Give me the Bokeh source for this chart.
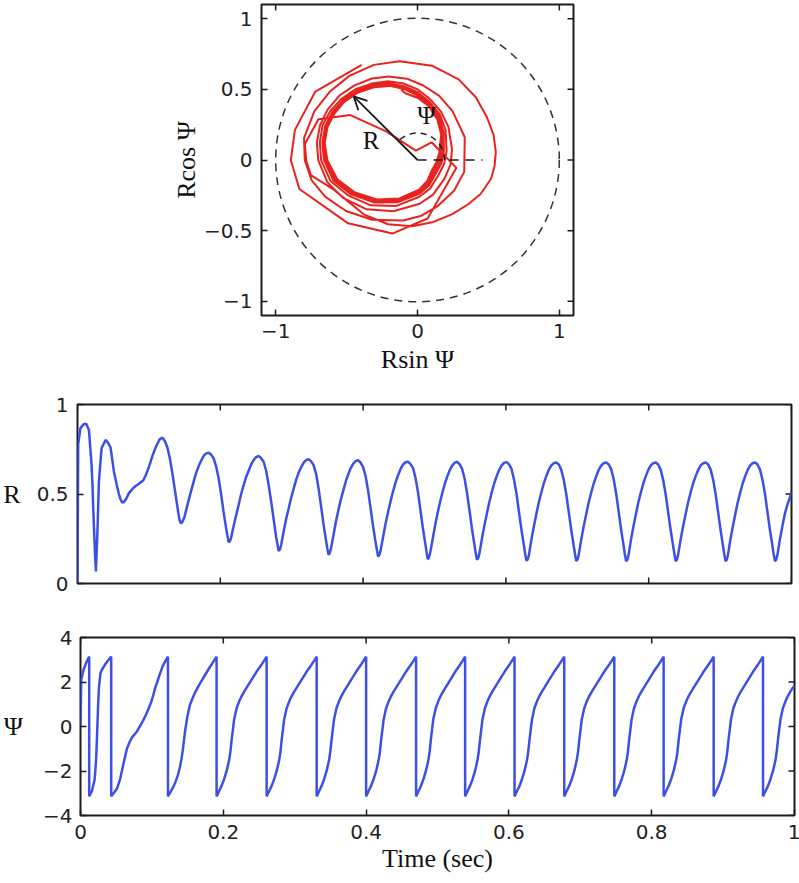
import numpy as np
from bokeh.plotting import figure
from bokeh.models import FixedTicker, Range1d, Arrow, OpenHead, Label
from bokeh.embed import file_html
from bokeh.resources import INLINE

# ---------------- data (time in s, R, Psi in rad) ----------------
# one row per segment between phase wraps (Psi jumps from +pi to -pi at the same time)
time_s = [
    0.0, 0.001, 0.0042, 0.0085, 0.0122,
    0.0122, 0.016, 0.0197, 0.021, 0.022, 0.0234, 0.0246, 0.0258, 0.028, 0.030, 0.0337, 0.0393, 0.043,
    0.043, 0.0463, 0.051, 0.0556, 0.058, 0.0603, 0.0627, 0.065, 0.0685, 0.072, 0.0785, 0.0815, 0.085, 0.0885, 0.092, 0.0955, 0.099, 0.102, 0.1047, 0.1075, 0.110, 0.1125, 0.115, 0.119, 0.1225,
    0.1225, 0.1259, 0.1293, 0.1327, 0.1361, 0.1395, 0.1412, 0.1429, 0.1446, 0.1463, 0.1497, 0.1531, 0.1566, 0.1600, 0.1634, 0.1668, 0.1702, 0.1736, 0.1770, 0.1804, 0.1838, 0.1872, 0.1906,
    0.1906, 0.1941, 0.1976, 0.2011, 0.2046, 0.2081, 0.2099, 0.2116, 0.2134, 0.2151, 0.2186, 0.2221, 0.2257, 0.2292, 0.2327, 0.2362, 0.2397, 0.2432, 0.2467, 0.2502, 0.2537, 0.2572, 0.2607,
    0.2607, 0.2642, 0.2677, 0.2712, 0.2747, 0.2782, 0.2800, 0.2817, 0.2835, 0.2852, 0.2887, 0.2922, 0.2958, 0.2993, 0.3028, 0.3063, 0.3098, 0.3133, 0.3168, 0.3203, 0.3238, 0.3273, 0.3308,
    0.3308, 0.3343, 0.3377, 0.3412, 0.3446, 0.3481, 0.3498, 0.3516, 0.3533, 0.3550, 0.3585, 0.3619, 0.3654, 0.3689, 0.3723, 0.3758, 0.3792, 0.3827, 0.3862, 0.3896, 0.3931, 0.3965, 0.4000,
    0.4000, 0.4035, 0.4070, 0.4105, 0.4140, 0.4175, 0.4193, 0.4210, 0.4228, 0.4245, 0.4280, 0.4315, 0.4350, 0.4385, 0.4420, 0.4455, 0.4490, 0.4525, 0.4560, 0.4595, 0.4630, 0.4665, 0.4700,
    0.4700, 0.4734, 0.4769, 0.4803, 0.4837, 0.4872, 0.4889, 0.4906, 0.4923, 0.4940, 0.4975, 0.5009, 0.5044, 0.5078, 0.5112, 0.5147, 0.5181, 0.5215, 0.5250, 0.5284, 0.5318, 0.5353, 0.5387,
    0.5387, 0.5422, 0.5456, 0.5491, 0.5525, 0.5560, 0.5577, 0.5595, 0.5612, 0.5629, 0.5664, 0.5698, 0.5733, 0.5768, 0.5802, 0.5837, 0.5871, 0.5906, 0.5941, 0.5975, 0.6010, 0.6044, 0.6079,
    0.6079, 0.6114, 0.6149, 0.6183, 0.6218, 0.6253, 0.6270, 0.6288, 0.6305, 0.6323, 0.6357, 0.6392, 0.6427, 0.6462, 0.6497, 0.6531, 0.6566, 0.6601, 0.6636, 0.6671, 0.6705, 0.6740, 0.6775,
    0.6775, 0.6810, 0.6845, 0.6880, 0.6915, 0.6950, 0.6968, 0.6985, 0.7003, 0.7020, 0.7055, 0.7090, 0.7126, 0.7161, 0.7196, 0.7231, 0.7266, 0.7301, 0.7336, 0.7371, 0.7406, 0.7441, 0.7476,
    0.7476, 0.7511, 0.7545, 0.7580, 0.7614, 0.7649, 0.7666, 0.7683, 0.7701, 0.7718, 0.7752, 0.7787, 0.7822, 0.7856, 0.7891, 0.7925, 0.7960, 0.7994, 0.8029, 0.8063, 0.8098, 0.8132, 0.8167,
    0.8167, 0.8202, 0.8237, 0.8272, 0.8307, 0.8342, 0.8360, 0.8377, 0.8395, 0.8412, 0.8447, 0.8482, 0.8518, 0.8553, 0.8588, 0.8623, 0.8658, 0.8693, 0.8728, 0.8763, 0.8798, 0.8833, 0.8868,
    0.8868, 0.8903, 0.8937, 0.8972, 0.9006, 0.9041, 0.9058, 0.9075, 0.9093, 0.9110, 0.9144, 0.9179, 0.9214, 0.9248, 0.9283, 0.9317, 0.9352, 0.9386, 0.9421, 0.9455, 0.9490, 0.9524, 0.9559,
    0.9559, 0.9594, 0.9629, 0.9663, 0.9698, 0.9733, 0.9750, 0.9768, 0.9785, 0.9803, 0.9837, 0.9872, 0.9907, 0.9942, 0.9977, 1.0,
]

r_amp = [
    0.0, 0.78, 0.868, 0.89, 0.893,
    0.893, 0.858, 0.663, 0.55, 0.42, 0.28, 0.16, 0.067, 0.30, 0.57, 0.756, 0.802, 0.785,
    0.785, 0.76, 0.626, 0.54, 0.50, 0.47, 0.452, 0.455, 0.475, 0.505, 0.535, 0.545, 0.555, 0.565, 0.575, 0.605, 0.64, 0.675, 0.71, 0.74, 0.765, 0.785, 0.805, 0.815, 0.795,
    0.795, 0.76, 0.70, 0.62, 0.53, 0.44, 0.395, 0.355, 0.337, 0.34, 0.37, 0.425, 0.48, 0.53, 0.58, 0.625, 0.66, 0.69, 0.715, 0.727, 0.73, 0.72, 0.70,
    0.70, 0.655, 0.59, 0.50, 0.40, 0.31, 0.268, 0.232, 0.235, 0.255, 0.32, 0.38, 0.44, 0.50, 0.55, 0.595, 0.63, 0.665, 0.69, 0.706, 0.713, 0.70, 0.68,
    0.68, 0.63, 0.55, 0.46, 0.36, 0.26, 0.22, 0.182, 0.19, 0.215, 0.29, 0.36, 0.42, 0.48, 0.53, 0.58, 0.62, 0.65, 0.675, 0.69, 0.694, 0.682, 0.66,
    0.66, 0.61, 0.53, 0.43, 0.33, 0.24, 0.198, 0.16, 0.17, 0.195, 0.27, 0.345, 0.41, 0.47, 0.52, 0.57, 0.61, 0.645, 0.67, 0.684, 0.689, 0.675, 0.65,
    0.65, 0.60, 0.52, 0.42, 0.32, 0.23, 0.188, 0.15, 0.16, 0.185, 0.26, 0.335, 0.40, 0.46, 0.515, 0.565, 0.605, 0.64, 0.665, 0.677, 0.68, 0.667, 0.645,
    0.645, 0.59, 0.51, 0.41, 0.31, 0.22, 0.175, 0.135, 0.145, 0.172, 0.25, 0.325, 0.395, 0.455, 0.51, 0.56, 0.60, 0.635, 0.66, 0.675, 0.68, 0.665, 0.64,
    0.64, 0.585, 0.505, 0.405, 0.305, 0.215, 0.17, 0.132, 0.142, 0.167, 0.25, 0.322, 0.39, 0.455, 0.51, 0.56, 0.60, 0.635, 0.66, 0.674, 0.678, 0.665, 0.64,
    0.64, 0.58, 0.50, 0.40, 0.30, 0.21, 0.165, 0.127, 0.135, 0.16, 0.245, 0.32, 0.39, 0.455, 0.51, 0.56, 0.60, 0.635, 0.66, 0.672, 0.676, 0.665, 0.636,
    0.636, 0.58, 0.50, 0.40, 0.30, 0.21, 0.165, 0.126, 0.134, 0.16, 0.245, 0.32, 0.39, 0.455, 0.51, 0.56, 0.60, 0.635, 0.66, 0.672, 0.676, 0.665, 0.636,
    0.636, 0.58, 0.50, 0.40, 0.30, 0.21, 0.165, 0.125, 0.133, 0.16, 0.245, 0.32, 0.39, 0.455, 0.51, 0.56, 0.60, 0.635, 0.66, 0.672, 0.676, 0.665, 0.636,
    0.636, 0.58, 0.50, 0.40, 0.30, 0.21, 0.165, 0.125, 0.133, 0.16, 0.245, 0.32, 0.39, 0.455, 0.51, 0.56, 0.60, 0.635, 0.66, 0.672, 0.676, 0.665, 0.636,
    0.636, 0.58, 0.50, 0.40, 0.30, 0.21, 0.165, 0.125, 0.133, 0.16, 0.245, 0.32, 0.39, 0.455, 0.51, 0.56, 0.60, 0.635, 0.66, 0.672, 0.676, 0.665, 0.636,
    0.636, 0.58, 0.50, 0.40, 0.30, 0.21, 0.165, 0.125, 0.133, 0.16, 0.245, 0.32, 0.39, 0.44, 0.48, 0.512,
]

psi_rad = [
    0.0, 2.10, 2.55, 2.90, 3.14,
    -3.14, -2.90, -2.40, -1.90, -1.40, -0.20, 0.90, 1.75, 2.40, 2.55, 2.75, 3.00, 3.14,
    -3.14, -3.00, -2.80, -2.35, -2.00, -1.65, -1.32, -1.00, -0.72, -0.50, -0.25, -0.08, 0.10, 0.32, 0.55, 0.82, 1.10, 1.42, 1.75, 2.00, 2.25, 2.48, 2.70, 2.95, 3.14,
    -3.14, -2.95, -2.76, -2.52, -2.22, -1.80, -1.50, -1.15, -0.70, -0.25, 0.45, 0.95, 1.25, 1.50, 1.70, 1.90, 2.08, 2.27, 2.45, 2.63, 2.80, 2.97, 3.14,
    -3.14, -2.90, -2.67, -2.37, -2.01, -1.52, -1.15, -0.62, -0.15, 0.30, 0.82, 1.12, 1.37, 1.57, 1.75, 1.93, 2.11, 2.29, 2.47, 2.63, 2.79, 2.96, 3.14,
    -3.14, -2.90, -2.67, -2.37, -2.01, -1.52, -1.15, -0.62, -0.15, 0.30, 0.82, 1.12, 1.37, 1.57, 1.75, 1.93, 2.11, 2.29, 2.47, 2.63, 2.79, 2.96, 3.14,
    -3.14, -2.90, -2.67, -2.37, -2.01, -1.52, -1.15, -0.62, -0.15, 0.30, 0.82, 1.12, 1.37, 1.57, 1.75, 1.93, 2.11, 2.29, 2.47, 2.63, 2.79, 2.96, 3.14,
    -3.14, -2.90, -2.67, -2.37, -2.01, -1.52, -1.15, -0.62, -0.15, 0.30, 0.82, 1.12, 1.37, 1.57, 1.75, 1.93, 2.11, 2.29, 2.47, 2.63, 2.79, 2.96, 3.14,
    -3.14, -2.90, -2.67, -2.37, -2.01, -1.52, -1.15, -0.62, -0.15, 0.30, 0.82, 1.12, 1.37, 1.57, 1.75, 1.93, 2.11, 2.29, 2.47, 2.63, 2.79, 2.96, 3.14,
    -3.14, -2.90, -2.67, -2.37, -2.01, -1.52, -1.15, -0.62, -0.15, 0.30, 0.82, 1.12, 1.37, 1.57, 1.75, 1.93, 2.11, 2.29, 2.47, 2.63, 2.79, 2.96, 3.14,
    -3.14, -2.90, -2.67, -2.37, -2.01, -1.52, -1.15, -0.62, -0.15, 0.30, 0.82, 1.12, 1.37, 1.57, 1.75, 1.93, 2.11, 2.29, 2.47, 2.63, 2.79, 2.96, 3.14,
    -3.14, -2.90, -2.67, -2.37, -2.01, -1.52, -1.15, -0.62, -0.15, 0.30, 0.82, 1.12, 1.37, 1.57, 1.75, 1.93, 2.11, 2.29, 2.47, 2.63, 2.79, 2.96, 3.14,
    -3.14, -2.90, -2.67, -2.37, -2.01, -1.52, -1.15, -0.62, -0.15, 0.30, 0.82, 1.12, 1.37, 1.57, 1.75, 1.93, 2.11, 2.29, 2.47, 2.63, 2.79, 2.96, 3.14,
    -3.14, -2.90, -2.67, -2.37, -2.01, -1.52, -1.15, -0.62, -0.15, 0.30, 0.82, 1.12, 1.37, 1.57, 1.75, 1.93, 2.11, 2.29, 2.47, 2.63, 2.79, 2.96, 3.14,
    -3.14, -2.90, -2.67, -2.37, -2.01, -1.52, -1.15, -0.62, -0.15, 0.30, 0.82, 1.12, 1.37, 1.57, 1.75, 1.93, 2.11, 2.29, 2.47, 2.63, 2.79, 2.96, 3.14,
    -3.14, -2.90, -2.67, -2.37, -2.01, -1.52, -1.15, -0.62, -0.15, 0.30, 0.82, 1.12, 1.37, 1.57, 1.75, 1.80,
]

# tick values
phase_ticks = [-1, -0.5, 0, 0.5, 1]
phase_xticks = [-1, 0, 1]
time_ticks = [0, 0.2, 0.4, 0.6, 0.8, 1]
r_ticks = [0, 0.5, 1]
psi_ticks = [-4, -2, 0, 2, 4]

# schematic drawn in the phase plane
unit_circle_radius = [1.0]
arrow_tip = (-0.45, 0.45)
psi_arc_radius = 0.19
psi_arc_end = 3 * np.pi / 4
zero_ray_end = 0.46

RED = "#e8231f"
BLUE = "#3d50e4"
INK = "#1c1c1c"
TICK_FONT = "DejaVu Sans"
SERIF = "Liberation Serif"
TICK_LEN = 6


def fmt(v):
    return ("%g" % v).replace("-", "\u2212")


def style(p, xt, yt, show_x=True):
    p.outline_line_color = INK
    p.outline_line_width = 2
    p.grid.visible = False
    for ax, ticks in ((p.xaxis[0], xt), (p.yaxis[0], yt)):
        ax.ticker = FixedTicker(ticks=ticks)
        ax.major_label_overrides = {float(t): fmt(t) for t in ticks}
        ax.axis_line_color = None
        ax.major_tick_in = TICK_LEN
        ax.major_tick_out = 0
        ax.major_tick_line_color = INK
        ax.major_tick_line_width = 1.5
        ax.minor_tick_line_color = None
        ax.major_label_text_font = TICK_FONT
        ax.major_label_text_font_size = "20px"
        ax.major_label_text_color = "#222222"
        ax.axis_label_text_font = SERIF
        ax.axis_label_text_font_size = "26px"
        ax.axis_label_text_font_style = "normal"
        ax.axis_label_text_color = "#111111"
    xr, yr = p.x_range, p.y_range
    # mirrored ticks on the top and right edges of the box (MATLAB style)
    p.ray(x=xt, y=[yr.end] * len(xt), length=TICK_LEN, length_units="screen",
          angle=-np.pi / 2, line_color=INK, line_width=1.5)
    p.ray(x=[xr.end] * len(yt), y=yt, length=TICK_LEN, length_units="screen",
          angle=np.pi, line_color=INK, line_width=1.5)
    if not show_x:
        p.xaxis[0].visible = False
        p.ray(x=xt, y=[yr.start] * len(xt), length=TICK_LEN, length_units="screen",
              angle=np.pi / 2, line_color=INK, line_width=1.5)


t_arr = np.array(time_s)
r_arr = np.array(r_amp)
psi_arr = np.array(psi_rad)
# phase-plane coordinates of the same samples (skip the t=0 start at the origin)
px = (r_arr * np.cos(psi_arr))[1:]
py = (r_arr * np.sin(psi_arr))[1:]

# ---------------- top: phase plane ----------------
p1 = figure(frame_width=312, frame_height=311, min_border_left=261, min_border_right=226,
            min_border_top=4, min_border_bottom=71,
            x_range=Range1d(-1.1, 1.1), y_range=Range1d(-1.1, 1.1),
            output_backend="svg", toolbar_location=None)
style(p1, phase_xticks, phase_ticks)
p1.xaxis[0].axis_label = "Rsin \u03a8"
p1.yaxis[0].axis_label = "Rcos \u03a8"
p1.xaxis[0].major_label_standoff = 8
p1.yaxis[0].major_label_standoff = 9
p1.xaxis[0].axis_label_standoff = 4
p1.yaxis[0].axis_label_standoff = 0

p1.line(px, py, line_color=RED, line_width=2)
p1.circle(x=[0], y=[0], radius=unit_circle_radius, fill_color=None, line_color="#333333",
          line_width=1.5, line_dash="8 6")
p1.line([0, zero_ray_end], [0, 0], line_color=INK, line_width=1.5, line_dash="9 7")
p1.arc(x=[0], y=[0], radius=psi_arc_radius, start_angle=0, end_angle=psi_arc_end,
       line_color=INK, line_width=1.5, line_dash="6 5")
p1.add_layout(Arrow(end=OpenHead(size=13, line_width=1.8, line_color=INK),
                    x_start=0, y_start=0, x_end=arrow_tip[0], y_end=arrow_tip[1],
                    line_color=INK, line_width=1.8))
p1.add_layout(Label(x=-0.327, y=0.136, text="R", text_font=SERIF, text_font_size="25px",
                    text_align="center", text_baseline="middle", text_color="#111111"))
p1.add_layout(Label(x=0.064, y=0.318, text="\u03a8", text_font=SERIF, text_font_size="25px",
                    text_align="center", text_baseline="middle", text_color="#111111"))

# ---------------- middle: R(t) ----------------
p2 = figure(frame_width=714, frame_height=179, min_border_left=77, min_border_right=6,
            min_border_top=18, min_border_bottom=18,
            x_range=Range1d(0, 1), y_range=Range1d(0, 1),
            output_backend="svg", toolbar_location=None)
style(p2, time_ticks, r_ticks, show_x=False)
p2.yaxis[0].axis_label = "R"
p2.yaxis[0].axis_label_orientation = "horizontal"
p2.yaxis[0].major_label_standoff = 9
p2.yaxis[0].axis_label_standoff = 13
p2.line(t_arr, r_arr, line_color=BLUE, line_width=2.5)

# ---------------- bottom: Psi(t) ----------------
p3 = figure(frame_width=714, frame_height=178, min_border_left=77, min_border_right=6,
            min_border_top=36, min_border_bottom=66,
            x_range=Range1d(0, 1), y_range=Range1d(-4, 4),
            output_backend="svg", toolbar_location=None)
style(p3, time_ticks, psi_ticks)
p3.yaxis[0].axis_label = "\u03a8"
p3.yaxis[0].axis_label_orientation = "horizontal"
p3.yaxis[0].major_label_standoff = 8
p3.yaxis[0].axis_label_standoff = 17
p3.xaxis[0].axis_label = "Time (sec)"
p3.xaxis[0].major_label_standoff = 9
p3.xaxis[0].axis_label_standoff = 2
p3.line(t_arr, psi_arr, line_color=BLUE, line_width=2.5)

open("out.html", "w").write(file_html([p1, p2, p3], INLINE))
